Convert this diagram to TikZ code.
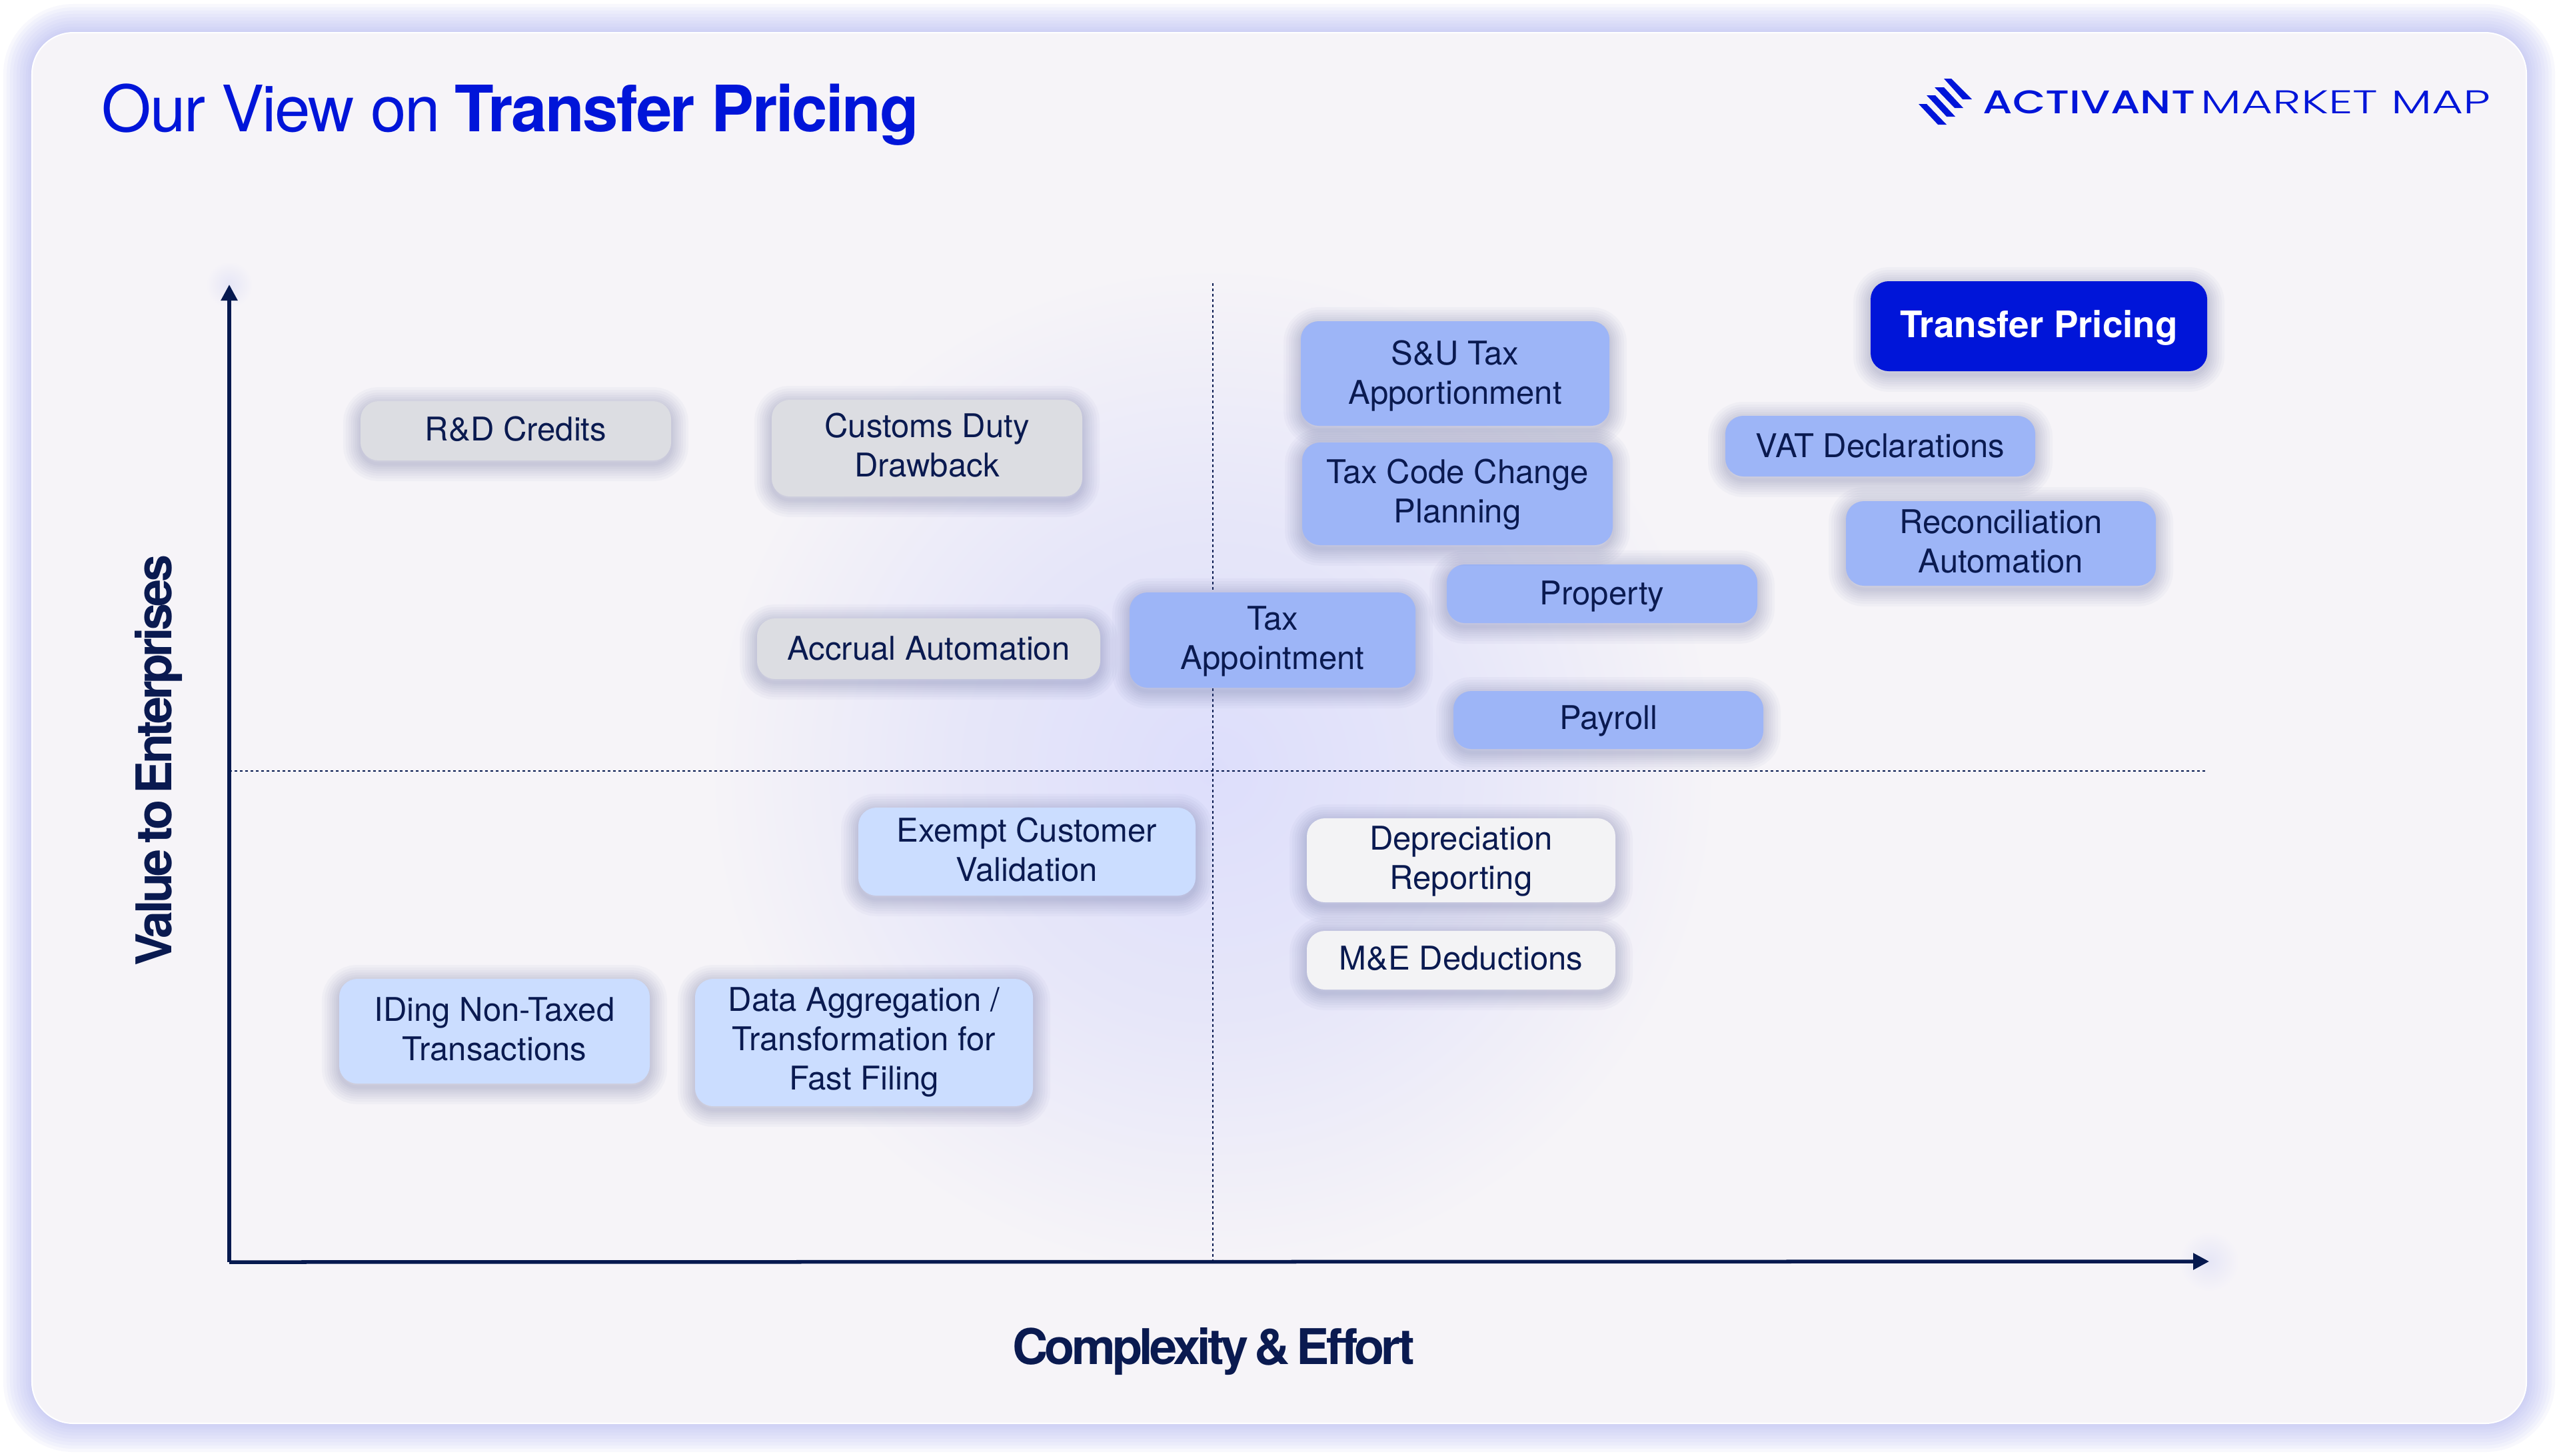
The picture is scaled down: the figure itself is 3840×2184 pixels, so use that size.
\documentclass[tikz,border=0pt]{standalone}
\usepackage{fontspec}
\setmainfont{TeX Gyre Heros}
\newfontfamily\logoA[FakeStretch=1.3]{Poppins Medium}
\newfontfamily\logoB[FakeStretch=1.47]{Poppins Light}
\newfontfamily\tightfont[LetterSpace=-2.5]{TeX Gyre Heros}
\newfontfamily\labelfont[LetterSpace=-6.4,WordSpace=0.6]{TeX Gyre Heros}
\usetikzlibrary{arrows.meta,shadings}
\definecolor{cardbg}{HTML}{F6F4F8}
\definecolor{glowc}{HTML}{B4B8F2}
\definecolor{brand}{HTML}{0015D9}
\definecolor{navy}{HTML}{0A1A50}
\definecolor{axisc}{HTML}{06194F}
\definecolor{bluefill}{HTML}{9DB5F7}
\definecolor{lightfill}{HTML}{CBDDFF}
\definecolor{greyfill}{HTML}{DCDDE2}
\definecolor{whitefill}{HTML}{F3F3F5}
\definecolor{shadowc}{HTML}{5A6296}
\definecolor{centerglow}{HTML}{DDDEFB}
\definecolor{midglow}{HTML}{E6E6F9}
\definecolor{tipglow}{HTML}{E6E6F6}
\pgfdeclareradialshading{centreglow}{\pgfpoint{0bp}{0bp}}{color(0bp)=(centerglow); color(12bp)=(midglow); color(25bp)=(cardbg); color(50bp)=(cardbg)}
\tikzset{
  sl/.style={preaction={draw=shadowc,draw opacity=0.04,line width=#1 cm,transform canvas={yshift=-0.05cm}}},
  softshadow/.style={sl=0.52,sl=0.44,sl=0.36,sl=0.29,sl=0.22,sl=0.16,sl=0.10,sl=0.05},
  boxbase/.style={softshadow,rounded corners=0.27cm,inner sep=0pt,outer sep=0pt,align=center,text=navy,
     font=\fontsize{13.95pt}{16.8pt}\selectfont},
  bluebox/.style={boxbase,fill=bluefill},
  lightbox/.style={boxbase,fill=lightfill},
  greybox/.style={boxbase,fill=greyfill},
  whitebox/.style={boxbase,fill=whitefill},
  herobox/.style={boxbase,fill=brand,text=white,font=\fontsize{15.6pt}{18pt}\selectfont\bfseries},
  axisline/.style={draw=axisc,line width=0.055cm,-{Triangle[length=0.24cm,width=0.24cm]}},
  dotline/.style={draw=axisc,line width=0.028cm,dash pattern=on 0.04cm off 0.04cm},
  gl/.style={preaction={draw=glowc,draw opacity=0.09,line width=#1 cm}},
  cardglow/.style={gl=0.86,gl=0.76,gl=0.66,gl=0.56,gl=0.46,gl=0.36,gl=0.27,gl=0.18,gl=0.11,gl=0.05},
  stripe/.style={fill=brand},
  axislabel/.style={text=navy,font=\labelfont\fontsize{21pt}{25pt}\selectfont\bfseries,inner sep=0pt},
}
\newcommand{\ttxt}[2]{\raisebox{#1}[\height][\depth]{\begin{tabular}{@{}c@{}}#2\end{tabular}}}
\newcommand{\qbox}[8]{\node[#1,minimum width={(#4-#3)*0.01cm},minimum height={(#6-#5)*0.01cm}] (#2) at ({(#3+#4)/2},{(#5+#6)/2}) {\ttxt{#7cm}{#8}};}
\begin{document}
\begin{tikzpicture}[x=0.01cm,y=-0.01cm]
\useasboundingbox (0,0) rectangle (3840,2184);
\fill[white] (0,0) rectangle (3840,2184);
% card
\path[cardglow,fill=cardbg,draw=white,line width=0.02cm,rounded corners=0.62cm] (48,49) rectangle (3791,2136);
% central glow
\coordinate (centre) at (1820,1157);
\shade[shading=centreglow] (centre) circle (7.6cm);
% axes
\coordinate (origin) at (344,1894);
\coordinate (ytip) at (344,427);
\coordinate (xtip) at (3315,1893);
\coordinate (vtop) at (1820,425);
\coordinate (vbot) at (1820,1893);
\coordinate (hleft) at (344,1157);
\coordinate (hright) at (3310,1157);
\draw[dotline] (vtop) -- (vbot);
\draw[dotline] (hleft) -- (hright);
\shade[inner color=tipglow,outer color=cardbg] (xtip) circle (0.45cm);
\shade[inner color=tipglow,outer color=cardbg] (ytip) circle (0.35cm);
\draw[axisline] (origin) -- (ytip);
\draw[axisline] (origin) -- (xtip);
% title
\node[anchor=base west,inner sep=0pt,text=brand,font=\tightfont\fontsize{27.3pt}{32pt}\selectfont] (title) at (152,197) {Our View on \textbf{Transfer Pricing}};
% logo
\fill[stripe] (2917,118) -- (2928,118) -- (2959,149) -- (2945,149) -- cycle;
\fill[stripe] (2903,131) -- (2917,131) -- (2946,162) -- (2933,162) -- cycle;
\fill[stripe] (2891,143) -- (2904,143) -- (2934,175) -- (2921,175) -- cycle;
\fill[stripe] (2879,156) -- (2891,156) -- (2921,187) -- (2908,187) -- cycle;
\node[anchor=base west,inner sep=0pt,text=brand,font=\logoA\fontsize{14pt}{16pt}\selectfont] (logoa) at (2975,170) {ACTIVANT};
\node[anchor=base west,inner sep=0pt,text=brand,font=\logoB\fontsize{14pt}{16pt}\selectfont] (logob) at (3302,170) {MARKET MAP};
% axis labels
\node[axislabel,rotate=90,anchor=base] (ylab) at (257,1141) {Value to Enterprises};
\node[axislabel,anchor=base] (xlab) at (1821,2047) {Complexity \& Effort};
% boxes
\qbox{greybox}{rd}{541}{1007}{602}{691}{-0.03}{R\&D Credits}
\qbox{greybox}{customs}{1158}{1624}{600}{745}{-0.02}{Customs Duty\\Drawback}
\qbox{greybox}{accrual}{1136}{1651}{928}{1019}{-0.05}{Accrual Automation}
\qbox{bluebox}{taxapp}{1695}{2124}{889}{1032}{-0.03}{Tax\\Appointment}
\qbox{bluebox}{property}{2171}{2637}{847}{935}{-0.045}{Property}
\qbox{bluebox}{payroll}{2181}{2646}{1037}{1124}{-0.025}{Payroll}
\qbox{bluebox}{su}{1952}{2415}{482}{639}{-0.045}{S\&U Tax\\Apportionment}
\qbox{bluebox}{taxcode}{1954}{2420}{664}{818}{-0.02}{Tax Code Change\\Planning}
\qbox{bluebox}{vat}{2589}{3054}{624}{715}{-0.05}{VAT Declarations}
\qbox{bluebox}{recon}{2770}{3235}{752}{879}{-0.03}{Reconciliation\\Automation}
\qbox{herobox}{transfer}{2807}{3312}{422}{557}{-0.045}{Transfer Pricing}
\qbox{lightbox}{exempt}{1288}{1794}{1212}{1344}{-0.03}{Exempt Customer\\Validation}
\qbox{lightbox}{iding}{509}{975}{1469}{1626}{-0.03}{IDing Non-Taxed\\Transactions}
\qbox{lightbox}{data}{1043}{1550}{1469}{1660}{0}{Data Aggregation /\\Transformation for\\Fast Filing}
\qbox{whitebox}{deprec}{1961}{2424}{1228}{1354}{-0.02}{Depreciation\\Reporting}
\qbox{whitebox}{me}{1961}{2424}{1397}{1485}{-0.03}{M\&E Deductions}
\end{tikzpicture}
\end{document}
